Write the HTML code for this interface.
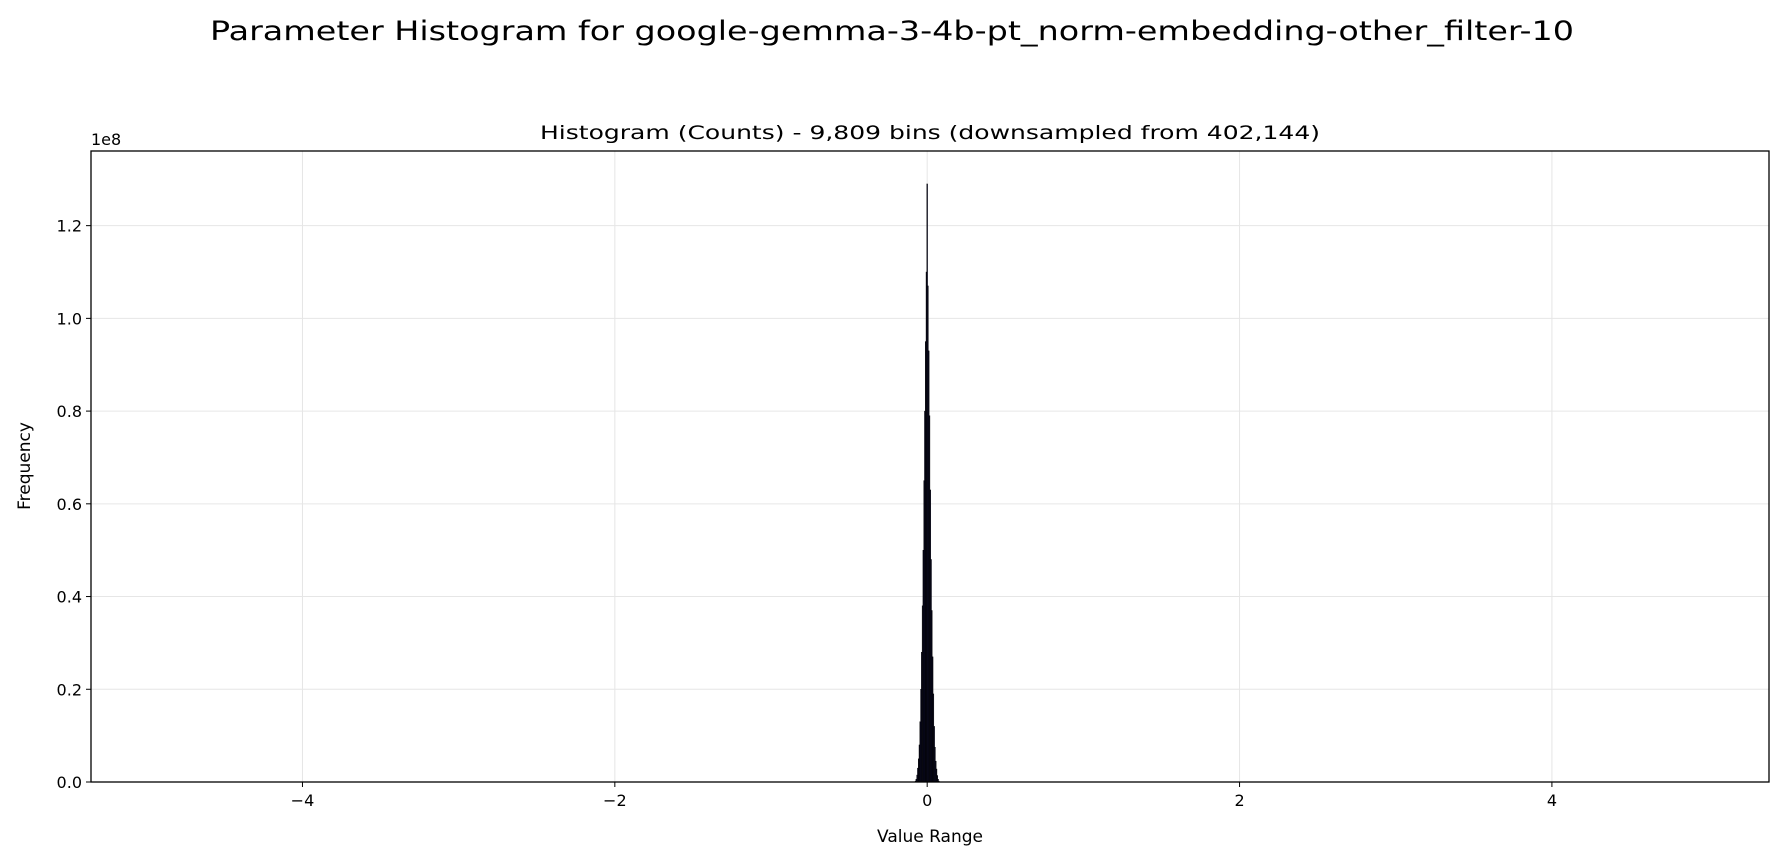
<!DOCTYPE html>
<html><head><meta charset="utf-8"><style>
body{margin:0;background:#fff;}
svg{display:block;font-family:"DejaVu Sans","Liberation Sans",sans-serif;}
</style></head><body>
<svg id="chart" width="1784" height="860" viewBox="0 0 1784 860" xmlns="http://www.w3.org/2000/svg">
<rect width="1784" height="860" fill="#fff"/>
<text x="892" y="40" text-anchor="middle" font-size="27" fill="#000" textLength="1364" lengthAdjust="spacingAndGlyphs">Parameter Histogram for google-gemma-3-4b-pt_norm-embedding-other_filter-10</text>
<text x="930" y="139" text-anchor="middle" font-size="19" fill="#000" textLength="780" lengthAdjust="spacingAndGlyphs">Histogram (Counts) - 9,809 bins (downsampled from 402,144)</text>
<g id="grid"></g>
<g id="bars"></g>
<rect x="91" y="151" width="1678" height="631" fill="none" stroke="#000" stroke-width="1.3"/>
<g id="ticks"></g>
<text x="91" y="145" font-size="16" fill="#000">1e8</text>
<text x="930" y="842" text-anchor="middle" font-size="17" fill="#000">Value Range</text>
<text transform="translate(30,466) rotate(-90)" text-anchor="middle" font-size="17" fill="#000">Frequency</text>
</svg>
<script>
const binCenters = [-0.075,-0.07,-0.065,-0.06,-0.055,-0.05,-0.045,-0.04,-0.035,-0.03,-0.025,-0.02,-0.015,-0.01,-0.005,0,0.005,0.01,0.015,0.02,0.025,0.03,0.035,0.04,0.045,0.05,0.055,0.06,0.065,0.07,0.075];
const binCounts = [0.002,0.006,0.015,0.03,0.05,0.08,0.13,0.2,0.28,0.38,0.5,0.65,0.8,0.95,1.1,1.29,1.07,0.93,0.79,0.63,0.48,0.37,0.27,0.19,0.12,0.075,0.045,0.028,0.014,0.006,0.002];
const xTicks = [-4,-2,0,2,4];
const xTickLabels = ["\u22124","\u22122","0","2","4"];
const yTicks = [0,0.2,0.4,0.6,0.8,1.0,1.2];
const yTickLabels = ["0.0","0.2","0.4","0.6","0.8","1.0","1.2"];
const binWidth = 0.005;

const L=91,R=1769,T=151,B=782;
const xMin=-5.354,xMax=5.39,yMax=1.361;
const xs=v=>L+(v-xMin)/(xMax-xMin)*(R-L);
const ys=v=>B-v/yMax*(B-T);
const NS="http://www.w3.org/2000/svg";
function mk(tag,attrs,parent){const e=document.createElementNS(NS,tag);for(const k in attrs)e.setAttribute(k,attrs[k]);parent.appendChild(e);return e;}
const grid=document.getElementById('grid'),bars=document.getElementById('bars'),ticks=document.getElementById('ticks');
xTicks.forEach((t,i)=>{
  const x=xs(t);
  const g=mk('line',{x1:x,x2:x,y1:T,y2:B,stroke:'#e6e6e6','stroke-width':1},grid);
  
  
  const tk=mk('line',{x1:x,x2:x,y1:B,y2:B+5,stroke:'#000','stroke-width':1},ticks);
  
  
  const tx=mk('text',{x:x,y:B+24,'text-anchor':'middle','font-size':16,fill:'#000'},ticks);
  tx.textContent=xTickLabels[i];
  
  
});
yTicks.forEach((t,i)=>{
  const y=ys(t);
  const g=mk('line',{x1:L,x2:R,y1:y,y2:y,stroke:'#e6e6e6','stroke-width':1},grid);
  
  
  const tk=mk('line',{x1:L-5,x2:L,y1:y,y2:y,stroke:'#000','stroke-width':1},ticks);
  
  
  const tx=mk('text',{x:L-9,y:y+6,'text-anchor':'end','font-size':16,fill:'#000'},ticks);
  tx.textContent=yTickLabels[i];
  
  
});
binCenters.forEach((c,i)=>{
  const x0=xs(c-binWidth/2),x1=xs(c+binWidth/2),y=ys(binCounts[i]);
  const r=mk('rect',{x:x0,y:y,width:Math.max(x1-x0,0.8),height:B-y,fill:'#0b0b2a',stroke:'#000','stroke-width':0.4},bars);
  
  
});
</script>
</body></html>
